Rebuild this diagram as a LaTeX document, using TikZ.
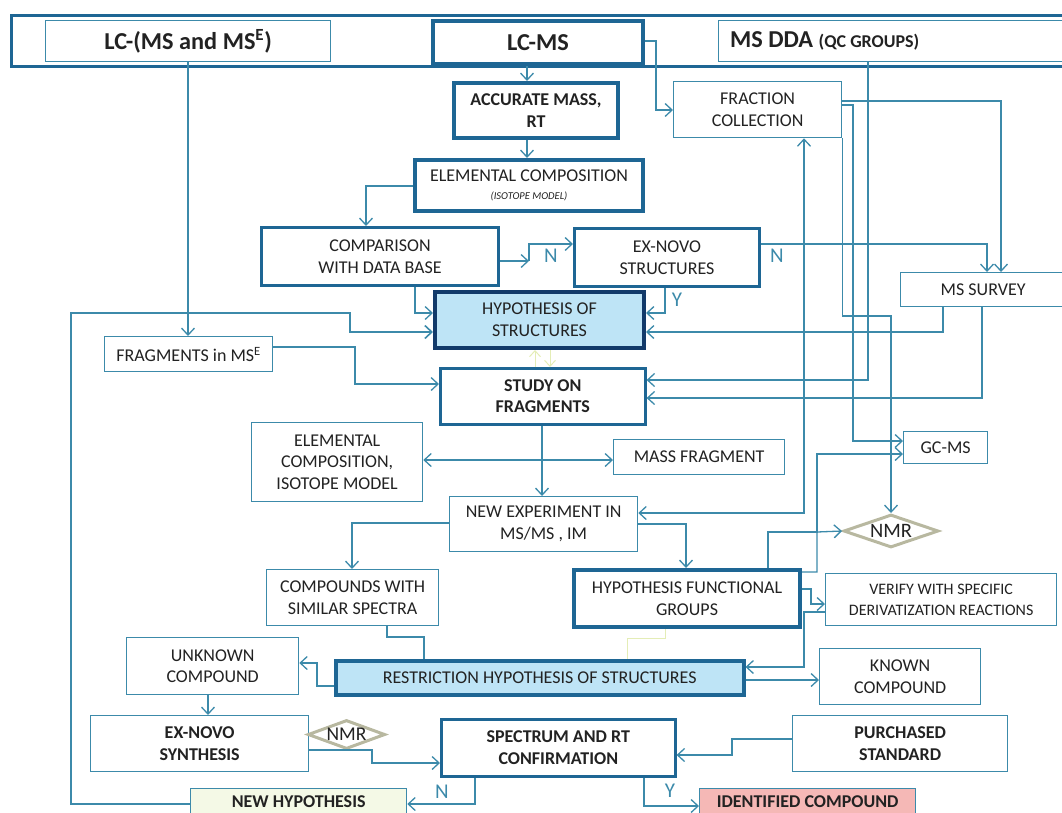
\documentclass[tikz,border=0pt]{standalone}
\usepackage{fontspec}
\setmainfont{Carlito}
\usetikzlibrary{arrows.meta,shapes.geometric,calc}
\definecolor{lnc}{HTML}{3C8AAA}
\definecolor{thk}{HTML}{1E6694}
\definecolor{navy}{HTML}{123A6A}
\definecolor{lblue}{HTML}{BEE4F6}
\definecolor{txt}{HTML}{222222}
\definecolor{nmrc}{HTML}{B8B8A0}
\definecolor{newhf}{HTML}{F4F9E6}
\definecolor{identf}{HTML}{F5B8B6}
\definecolor{faintc}{HTML}{E4EDB6}
\newcommand\fsz[2]{\fontsize{#1}{#2}\selectfont}
\begin{document}
\begin{tikzpicture}[x=1pt,y=-1pt,
  box/.style={draw=lnc, line width=1.3pt, fill=white, text=txt, align=center,
    inner sep=0pt, anchor=north west, font=\fsz{18}{21.6}},
  bbox/.style={box, font=\fsz{18}{21.6}\bfseries},
  thickbox/.style={box, draw=thk, line width=4pt},
  medbox/.style={box, draw=thk, line width=3pt},
  conn/.style={draw=lnc, line width=1.3pt},
  arr/.style={conn, -{Straight Barb[length=7pt,width=13pt]}},
  faintarr/.style={draw=faintc, line width=1pt, -{Straight Barb[length=6pt,width=11pt]}},
  faintln/.style={draw=faintc, line width=1pt},
  lab/.style={text=lnc, font=\fsz{21}{24}, inner sep=0pt},
  nmr/.style={diamond, draw=nmrc, line width=3pt, fill=white, shape aspect=3,
    inner sep=0pt, text=txt}]
\useasboundingbox (0,0) rectangle (1062,812);
\clip (0,0) rectangle (1062,812);

% top band
\node[draw=thk, line width=3pt, minimum width=1060pt, minimum height=51pt,
  anchor=north west, inner sep=0pt] (band) at (10,14) {};
\node[box, font=\fsz{24.3}{27}\bfseries, minimum width=285pt, minimum height=41pt] (lcmse) at (45,20) {LC-(MS and MS\textsuperscript{E})};
\node[thickbox, font=\fsz{24.3}{27}\bfseries, minimum width=210pt, minimum height=43pt] (lcms) at (431,19) {LC-MS};
\node[box, minimum width=350pt, minimum height=41pt] (msdda) at (718,20) {};
\node[anchor=west, inner sep=0pt, text=txt, font=\fsz{24.3}{27}\bfseries] (msddat) at (730,41) {MS DDA \fsz{18}{20}(QC GROUPS)};

% boxes
\node[thickbox, font=\fsz{18}{21.6}\bfseries, minimum width=164pt, minimum height=55pt] (acc) at (452,81) {ACCURATE MASS,\\RT};
\node[thickbox, minimum width=228pt, minimum height=51pt] (elem) at (413,158) {ELEMENTAL COMPOSITION\\[-3pt]{\fsz{10.5}{12}\itshape (ISOTOPE MODEL)}};
\node[box, minimum width=168pt, minimum height=56pt] (fc) at (673,81) {FRACTION\\COLLECTION};
\node[medbox, minimum width=237pt, minimum height=58pt] (comp) at (260,226) {COMPARISON\\WITH DATA BASE};
\node[medbox, minimum width=185pt, minimum height=58pt] (exs) at (573,227) {EX-NOVO\\STRUCTURES};
\node[box, draw=navy, line width=4pt, fill=lblue, minimum width=209pt, minimum height=56pt] (hyp) at (433,290) {HYPOTHESIS OF\\STRUCTURES};
\node[box, minimum width=165pt, minimum height=34pt] (mss) at (900,272) {MS SURVEY};
\node[box, minimum width=168pt, minimum height=35pt] (frag) at (104,336) {FRAGMENTS in MS\textsuperscript{E}};
\node[medbox, draw=thk, line width=2.6pt, font=\fsz{18}{21.6}\bfseries, minimum width=205pt, minimum height=56pt] (study) at (439,367) {STUDY ON\\FRAGMENTS};
\node[box, minimum width=171pt, minimum height=79pt] (elem2) at (251,422) {ELEMENTAL\\COMPOSITION,\\ISOTOPE MODEL};
\node[box, minimum width=171pt, minimum height=35pt] (massf) at (613,439) {MASS FRAGMENT};
\node[box, minimum width=84pt, minimum height=32pt] (gcms) at (903,431) {GC-MS};
\node[box, minimum width=188pt, minimum height=55pt] (newexp) at (449,496) {NEW EXPERIMENT IN\\MS/MS , IM};
\node[nmr, font=\fsz{20.5}{24}, minimum width=95pt, minimum height=33pt] (nmra) at (891,531) {NMR};
\node[box, minimum width=172pt, minimum height=56pt] (cmp) at (266,569) {COMPOUNDS WITH\\SIMILAR SPECTRA};
\node[thickbox, minimum width=226pt, minimum height=57pt] (hfg) at (572,568) {HYPOTHESIS FUNCTIONAL\\GROUPS};
\node[box, font=\fsz{16}{21}, minimum width=231pt, minimum height=52pt] (verify) at (825,573) {VERIFY WITH SPECIFIC\\DERIVATIZATION REACTIONS};
\node[box, minimum width=172pt, minimum height=57pt] (unk) at (126,637) {UNKNOWN\\COMPOUND};
\node[box, draw=thk, line width=3.5pt, fill=lblue, minimum width=408pt, minimum height=34pt] (restr) at (334,659) {RESTRICTION HYPOTHESIS OF STRUCTURES};
\node[box, minimum width=161pt, minimum height=56pt] (known) at (819,648) {KNOWN\\COMPOUND};
\node[bbox, minimum width=218pt, minimum height=56pt] (exsyn) at (90,715) {EX-NOVO\\SYNTHESIS};
\node[nmr, font=\fsz{19.5}{22}, minimum width=77pt, minimum height=29pt] (nmrb) at (346.5,734.5) {NMR};
\node[medbox, line width=2.6pt, font=\fsz{18}{21.6}\bfseries, minimum width=234pt, minimum height=57pt] (spec) at (440,718) {SPECTRUM AND RT\\CONFIRMATION};
\node[bbox, minimum width=215pt, minimum height=56pt] (purch) at (792,715) {PURCHASED\\STANDARD};
\node[bbox, fill=newhf, minimum width=216pt, minimum height=26pt] (newh) at (190,788) {NEW HYPOTHESIS};
\node[bbox, fill=identf, minimum width=216pt, minimum height=26pt] (ident) at (699,788) {IDENTIFIED COMPOUND};

% labels
\node[lab] (ln1) at (551,256) {N};
\node[lab] (ln2) at (777,256) {N};
\node[lab] (ly1) at (677,300) {Y};
\node[lab] (ln3) at (442,792) {N};
\node[lab] (ly2) at (670,791) {Y};

% helper coordinates
\coordinate (nsplit) at (529,261);
\coordinate (br) at (542,460);

% connectors
\draw[arr] (527,0 |- lcms.south) -- (527,0 |- acc.north);
\draw[arr] (527,0 |- acc.south) -- (527,0 |- elem.north);
\draw[arr] (0,186 -| elem.west) -| (366,0 |- comp.north);
\draw[arr] (0,261 -| comp.east) -- (nsplit);
\draw[arr] (nsplit) |- (0,244 -| exs.west);
\draw[arr] (0,244 -| exs.east) -| (987,0 |- mss.north);
\draw[arr] (0,101 -| fc.east) -| (1001,0 |- mss.north);
\draw[arr] (0,105 -| fc.east) -| (853,441) -- (0,441 -| gcms.west);
\draw[arr] (fc.south east) |- (891,316) -- (nmra.north);
\draw[arr] (0,41 -| lcms.east) -| (656,110) -- (0,110 -| fc.west);
\draw[arr] (868,0 |- msdda.south) |- (0,380 -| study.east);
\draw[arr] (982,0 |- mss.south) |- (0,398 -| study.east);
\draw[arr] (943,0 |- mss.south) |- (0,332 -| hyp.east);
\draw[arr] (665,0 |- exs.south) |- (0,313 -| hyp.east);
\draw[arr] (415,0 |- comp.south) |- (0,313 -| hyp.west);
\draw[arr] (188,0 |- lcmse.south) -- (188,0 |- frag.north);
\draw[arr] (0,347 -| frag.east) -| (355,384) -- (0,384 -| study.west);
\draw[arr, line width=1.6pt] (0,804 -| newh.west) -| (71,313) -| (350,332) -- (0,332 -| hyp.west);
\draw[faintarr] (535,0 |- study.north) -- (535,0 |- hyp.south);
\draw[faintarr] (550,0 |- hyp.south) -- (550,0 |- study.north);
\draw[arr] (542,0 |- study.south) -- (542,0 |- newexp.north);
\draw[arr] (br) -- (0,460 -| massf.west);
\draw[arr] (br) -- (0,460 -| elem2.east);
\draw[arr] (0,523 -| newexp.west) -| (352,0 |- cmp.north);
\draw[arr] (0,524 -| newexp.east) -| (686,0 |- hfg.north);
\draw[arr, {Straight Barb[length=7pt,width=13pt]}-{Straight Barb[length=7pt,width=13pt]}] (0,513 -| newexp.east) -| (804,0 |- fc.south);
\draw[arr] (768,0 |- hfg.north) |- (817,532) |- (0,454 -| gcms.west);
\draw[arr] (0,572 -| hfg.east) -| (817,532) -- (nmra.west);
\draw[arr] (0,589 -| hfg.east) -| (811,604) -- (0,604 -| verify.west);
\draw[arr] (0,612 -| verify.west) -| (804,667) -- (0,667 -| restr.east);
\draw[arr] (0,680 -| restr.east) -- (0,680 -| known.west);
\draw[conn] (387,0 |- cmp.south) |- (424,637) -- (424,0 |- restr.north);
\draw[faintln] (665,0 |- hfg.south) |- (627,638) -- (627,0 |- restr.north);
\draw[arr] (0,686 -| restr.west) -| (317,663) -- (0,663 -| unk.east);
\draw[arr] (208,0 |- unk.south) -- (208,0 |- exsyn.north);
\draw[arr] (0,750 -| exsyn.east) -| (372,763) -- (0,763 -| spec.west);
\draw[arr] (0,739 -| purch.west) -| (732,755) -- (0,755 -| spec.east);
\draw[arr] (475,0 |- spec.south) |- (0,804 -| newh.east);
\draw[arr] (644,0 |- spec.south) |- (0,806 -| ident.west);
\end{tikzpicture}
\end{document}
